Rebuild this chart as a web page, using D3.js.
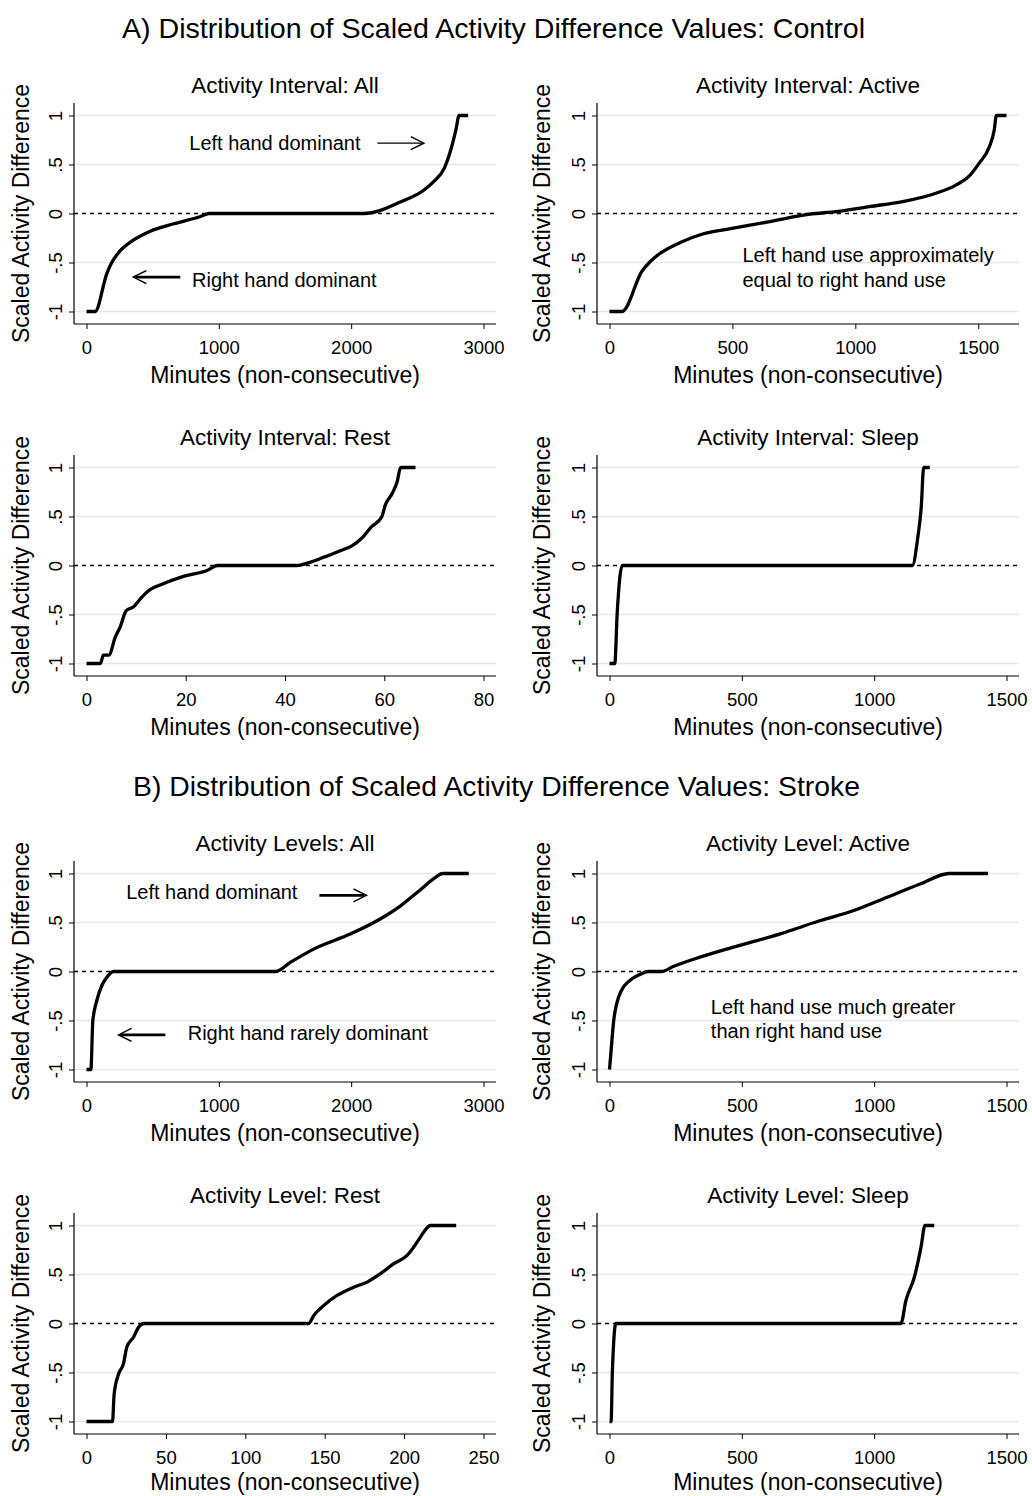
<!DOCTYPE html>
<html>
<head>
<meta charset="utf-8">
<script src="https://cdn.jsdelivr.net/npm/d3@7"></script>
<style>
body { margin: 0; background: #fff; }
text { font-family: "Liberation Sans", Arial, Helvetica, sans-serif; fill: #000; }
</style>
</head>
<body>
<div id="chart"></div>
<script>
// section titles
var sectionTitles = ["A) Distribution of Scaled Activity Difference Values: Control",
                     "B) Distribution of Scaled Activity Difference Values: Stroke"];

var panelTitles = ["Activity Interval: All", "Activity Interval: Active",
                   "Activity Interval: Rest", "Activity Interval: Sleep",
                   "Activity Levels: All", "Activity Level: Active",
                   "Activity Level: Rest", "Activity Level: Sleep"];

var yTicks = [-1, -0.5, 0, 0.5, 1];
var yTickLabels = ["-1", "-.5", "0", ".5", "1"];

var ticksAll = [0, 1000, 2000, 3000];
var ticks1500 = [0, 500, 1000, 1500];
var ticksCtrlRest = [0, 20, 40, 60, 80];
var ticksStrokeRest = [0, 50, 100, 150, 200, 250];
var xMaxes = [3000, 1615, 80, 1500, 3000, 1500, 250, 1500];

// sorted scaled activity difference curves
var ctrlAllX = [0, 65, 154, 187, 230, 356, 482, 659, 861, 924, 2097, 2375, 2551, 2627, 2703, 2753, 2791, 2816, 2884];
var ctrlAllY = [-1, -1, -0.61, -0.51, -0.42, -0.27, -0.18, -0.105, -0.03, 0, 0, 0.12, 0.24, 0.33, 0.46, 0.65, 0.85, 1, 1];

var ctrlActiveX = [0, 51, 132, 166, 207, 288, 382, 504, 653, 815, 923, 1058, 1193, 1328, 1409, 1464, 1504, 1545, 1565, 1574, 1615];
var ctrlActiveY = [-1, -1, -0.59, -0.49, -0.405, -0.296, -0.207, -0.15, -0.082, -0.007, 0.02, 0.071, 0.122, 0.207, 0.29, 0.384, 0.514, 0.68, 0.85, 1, 1];

var ctrlRestX = [0, 2.8, 3.4, 4.5, 5.8, 6.8, 8.0, 9.5, 10.9, 12.2, 15.6, 19.7, 24.4, 26.4, 42.3, 45.3, 48, 51.4, 53.4, 55.4, 57.4, 59.5, 60.2, 61.6, 62.6, 63.3, 66.3];
var ctrlRestY = [-1, -1, -0.915, -0.915, -0.73, -0.626, -0.46, -0.42, -0.337, -0.27, -0.184, -0.109, -0.048, 0, 0, 0.037, 0.088, 0.156, 0.197, 0.275, 0.395, 0.497, 0.616, 0.735, 0.854, 1, 1];

var ctrlSleepX = [0, 20, 29, 48, 1144, 1165, 1178, 1187, 1210];
var ctrlSleepY = [-1, -1, -0.49, 0, 0, 0.29, 0.6, 1, 1];

var strokeAllX = [0, 33, 48, 78, 116, 154, 205, 1429, 1543, 1720, 1997, 2199, 2376, 2528, 2629, 2692, 2889];
var strokeAllY = [-1, -1, -0.5, -0.296, -0.143, -0.058, 0, 0, 0.095, 0.231, 0.384, 0.52, 0.673, 0.84, 0.953, 1, 1];

var strokeActiveX = [0, 5, 16, 27, 45, 77, 115, 146, 197, 241, 342, 468, 645, 797, 923, 1049, 1176, 1283, 1430];
var strokeActiveY = [-1, -0.84, -0.5, -0.33, -0.194, -0.092, -0.03, 0, 0, 0.051, 0.146, 0.248, 0.384, 0.52, 0.622, 0.758, 0.895, 1, 1];

var strokeRestX = [0, 16.4, 17.4, 20.2, 23.3, 25.4, 29.6, 32.8, 36.3, 139.9, 143.1, 149.4, 157.8, 168.3, 176.7, 185.1, 193.5, 201.9, 208.2, 212.4, 216.6, 232.8];
var strokeRestY = [-1, -1, -0.72, -0.515, -0.41, -0.24, -0.14, -0.037, 0, 0, 0.082, 0.184, 0.286, 0.371, 0.422, 0.508, 0.61, 0.695, 0.83, 0.934, 1, 1];

var strokeSleepX = [0, 6, 11, 24, 1101, 1120, 1152, 1177, 1192, 1227];
var strokeSleepY = [-1, -1, -0.48, 0, 0, 0.235, 0.474, 0.78, 1, 1];

var panels = [
  {title: panelTitles[0], ticks: ticksAll, xMax: xMaxes[0], xs: ctrlAllX, ys: ctrlAllY},
  {title: panelTitles[1], ticks: ticks1500, xMax: xMaxes[1], xs: ctrlActiveX, ys: ctrlActiveY},
  {title: panelTitles[2], ticks: ticksCtrlRest, xMax: xMaxes[2], xs: ctrlRestX, ys: ctrlRestY},
  {title: panelTitles[3], ticks: ticks1500, xMax: xMaxes[3], xs: ctrlSleepX, ys: ctrlSleepY},
  {title: panelTitles[4], ticks: ticksAll, xMax: xMaxes[4], xs: strokeAllX, ys: strokeAllY},
  {title: panelTitles[5], ticks: ticks1500, xMax: xMaxes[5], xs: strokeActiveX, ys: strokeActiveY},
  {title: panelTitles[6], ticks: ticksStrokeRest, xMax: xMaxes[6], xs: strokeRestX, ys: strokeRestY},
  {title: panelTitles[7], ticks: ticks1500, xMax: xMaxes[7], xs: strokeSleepX, ys: strokeSleepY}
];

// annotations, placed in data units of their panel
var notes = [
  {panel: 0, x: 777, y: 0.643, lines: ["Left hand dominant"]},
  {panel: 0, x: 798, y: -0.745, lines: ["Right hand dominant"]},
  {panel: 1, x: 541, y: -0.496, lines: ["Left hand use approximately", "equal to right hand use"]},
  {panel: 4, x: 300, y: 0.736, lines: ["Left hand dominant"]},
  {panel: 4, x: 765, y: -0.695, lines: ["Right hand rarely dominant"]},
  {panel: 5, x: 383, y: -0.433, lines: ["Left hand use much greater", "than right hand use"]}
];
var arrows = [
  {panel: 0, x1: 2198, x2: 2549, y: 0.718, dir: 1, w: 1.2},
  {panel: 0, x1: 354, x2: 709, y: -0.649, dir: -1, w: 2.6},
  {panel: 4, x1: 1760, x2: 2115, y: 0.777, dir: 1, w: 2.6},
  {panel: 4, x1: 242, x2: 596, y: -0.647, dir: -1, w: 2.6}
];

var width = 1032, height = 1496;
var colX = [74, 597];
var rowY = [103, 455, 861, 1213];
var pw = 422, ph = 221;

var svg = d3.select("#chart").append("svg")
    .attr("width", width)
    .attr("height", height);

svg.append("rect").attr("width", width).attr("height", height).attr("fill", "#fff");

svg.append("text")
    .attr("x", 122).attr("y", 38)
    .attr("font-size", "28px")
    .attr("textLength", 743)
    .attr("lengthAdjust", "spacingAndGlyphs")
    .text(sectionTitles[0]);

svg.append("text")
    .attr("x", 133).attr("y", 796)
    .attr("font-size", "28px")
    .attr("textLength", 727)
    .attr("lengthAdjust", "spacingAndGlyphs")
    .text(sectionTitles[1]);

var scales = [];

panels.forEach(function(p, i) {
    var row = Math.floor(i / 2);
    var g = svg.append("g")
        .attr("transform", "translate(" + colX[i % 2] + "," + rowY[row] + ")");

    var x = d3.scaleLinear().domain([0, p.xMax]).range([12.5, pw - 12.5]);
    var y = d3.scaleLinear().domain([-1, 1]).range([208.5, 12.5]);
    scales.push({g: g, x: x, y: y});

    // gridlines
    g.selectAll(".grid")
        .data(yTicks.filter(function(t) { return t !== 0; }))
        .enter().append("line")
        .attr("x1", 0).attr("x2", pw)
        .attr("y1", function(d) { return y(d); })
        .attr("y2", function(d) { return y(d); })
        .style("stroke", "#e8e8e8")
        .style("stroke-width", 1.5);

    // zero reference
    g.append("line")
        .attr("x1", 0).attr("x2", pw)
        .attr("y1", y(0)).attr("y2", y(0))
        .style("stroke", "#000")
        .style("stroke-width", 1.3)
        .style("stroke-dasharray", "4,4");

    // curve
    var pts = p.xs.map(function(v, k) { return [v, p.ys[k]]; });
    var line = d3.line()
        .x(function(d) { return x(d[0]); })
        .y(function(d) { return y(d[1]); })
        .curve(d3.curveMonotoneX);
    g.append("path")
        .attr("d", line(pts))
        .style("fill", "none")
        .style("stroke", "#000")
        .style("stroke-width", 3.3)
        .style("stroke-linejoin", "round");

    // axes
    var xAxis = d3.axisBottom(x)
        .tickValues(p.ticks)
        .tickSize(5)
        .tickPadding(12)
        .tickFormat(d3.format("d"));
    var gx = g.append("g").attr("transform", "translate(0," + ph + ")").call(xAxis);
    gx.select(".domain").remove();
    gx.selectAll("text").attr("font-size", "18.5px").attr("font-family", null);
    gx.selectAll("line").style("stroke", "#000");

    var yAxis = d3.axisLeft(y)
        .tickValues(yTicks)
        .tickSize(5)
        .tickFormat(function(d, k) { return yTickLabels[k]; });
    var gy = g.append("g").call(yAxis);
    gy.select(".domain").remove();
    gy.selectAll("line").style("stroke", "#000");
    gy.selectAll("text")
        .attr("font-size", "18.5px")
        .attr("font-family", null)
        .attr("x", 0)
        .attr("dy", 0)
        .attr("text-anchor", "middle")
        .attr("transform", "translate(-12,0) rotate(-90)");

    g.append("line").attr("x1", 0).attr("x2", 0).attr("y1", 0).attr("y2", ph)
        .style("stroke", "#000").style("stroke-width", 1.2);
    g.append("line").attr("x1", 0).attr("x2", pw).attr("y1", ph).attr("y2", ph)
        .style("stroke", "#000").style("stroke-width", 1.2);

    // titles
    g.append("text")
        .attr("x", pw / 2).attr("y", -10)
        .attr("text-anchor", "middle")
        .attr("font-size", "22.5px")
        .text(p.title);

    g.append("text")
        .attr("x", pw / 2).attr("y", ph + (row === 3 ? 56 : 59))
        .attr("text-anchor", "middle")
        .attr("font-size", "23px")
        .text("Minutes (non-consecutive)");

    g.append("text")
        .attr("transform", "translate(" + (i % 2 ? -47 : -45.5) + "," + (ph / 2) + ") rotate(-90)")
        .attr("text-anchor", "middle")
        .attr("font-size", "23px")
        .text("Scaled Activity Difference");
});

notes.forEach(function(n) {
    var s = scales[n.panel];
    var t = s.g.append("text")
        .attr("x", s.x(n.x)).attr("y", s.y(n.y))
        .attr("font-size", "20px");
    n.lines.forEach(function(l, k) {
        t.append("tspan")
            .attr("x", s.x(n.x))
            .attr("dy", k === 0 ? 0 : 24.4)
            .text(l);
    });
});

arrows.forEach(function(a) {
    var s = scales[a.panel];
    var x1 = s.x(a.x1), x2 = s.x(a.x2), yy = s.y(a.y);
    var tip = a.dir > 0 ? x2 : x1;
    s.g.append("line")
        .attr("x1", a.dir > 0 ? x1 : x1 + 2).attr("x2", a.dir > 0 ? x2 - 2 : x2)
        .attr("y1", yy).attr("y2", yy)
        .style("stroke", "#000").style("stroke-width", a.w);
    s.g.append("path")
        .attr("d", "M" + (tip - a.dir * 13) + "," + (yy - 6.5) + "L" + tip + "," + yy + "L" + (tip - a.dir * 13) + "," + (yy + 6.5))
        .style("fill", "none").style("stroke", "#000").style("stroke-width", 1.5);
});
</script>
</body>
</html>
